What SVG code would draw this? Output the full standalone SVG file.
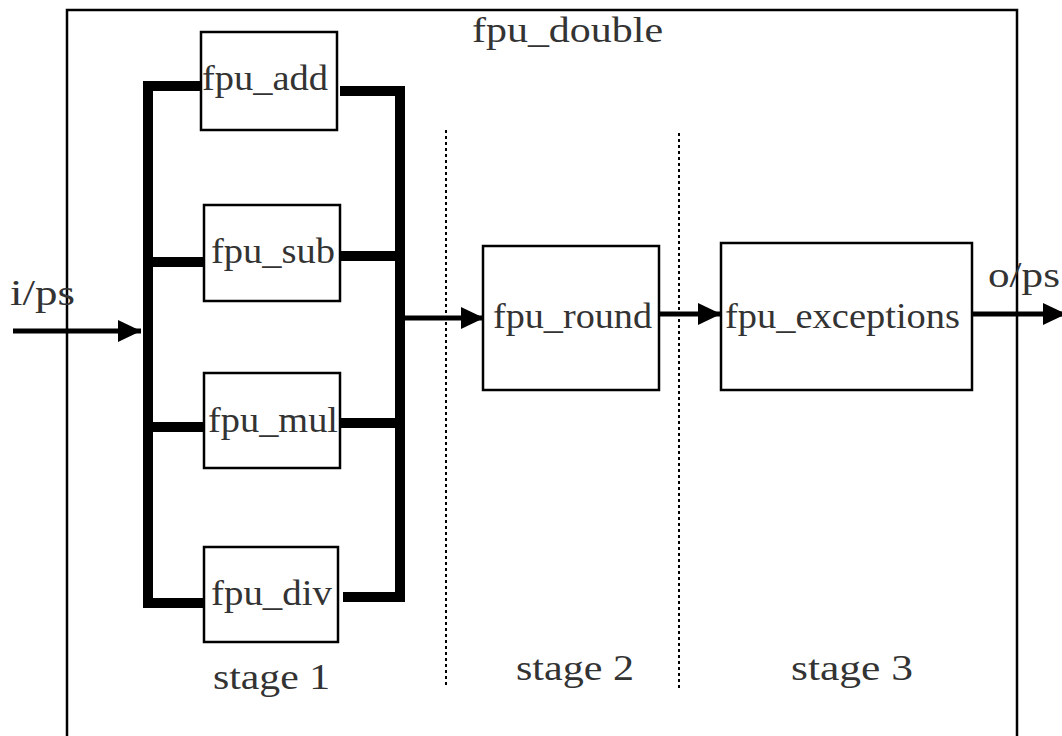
<svg xmlns="http://www.w3.org/2000/svg" width="1062" height="736" viewBox="0 0 1062 736">
  <style>
    .frame { fill: none; stroke: #000; stroke-width: 2.5; }
    .box { fill: #fff; stroke: #000; stroke-width: 2.5; }
    .lbl { font-family: "Liberation Serif", "DejaVu Serif", serif; font-size: 36px; fill: #333; }
    .bus { fill: none; stroke: #000; stroke-width: 10; stroke-linejoin: miter; stroke-linecap: butt; }
    .wire { fill: none; stroke: #000; stroke-width: 5; }
    .stage { fill: none; stroke: #000; stroke-width: 2; stroke-dasharray: 3 3; }
  </style>
  <defs>
    <marker id="head" viewBox="0 0 23 22" refX="23" refY="11" markerWidth="23" markerHeight="22" markerUnits="userSpaceOnUse" orient="auto">
      <path d="M0,0 L23,11 L0,22 Z" fill="#000"/>
    </marker>
  </defs>

  <rect width="1062" height="736" fill="#fff"/>

  <!-- top-level module -->
  <g id="fpu_double">
    <rect class="frame" x="67" y="10" width="950" height="740"/>
    <text class="lbl" x="472" y="42" textLength="191" lengthAdjust="spacingAndGlyphs">fpu_double</text>
  </g>

  <!-- pipeline stage separators -->
  <g id="stages">
    <line class="stage" x1="446" y1="130" x2="446" y2="688"/>
    <line class="stage" x1="679" y1="133" x2="679" y2="690"/>
    <text class="lbl" x="213" y="689" font-size="32" textLength="117" lengthAdjust="spacingAndGlyphs">stage 1</text>
    <text class="lbl" x="516" y="680" font-size="32" textLength="118" lengthAdjust="spacingAndGlyphs">stage 2</text>
    <text class="lbl" x="791" y="680" font-size="32" textLength="122" lengthAdjust="spacingAndGlyphs">stage 3</text>
  </g>

  <!-- connectors -->
  <g id="connectors">
    <!-- input fan-out bus -->
    <polyline class="bus" points="204,86 148,86 148,603 210,603"/>
    <line class="bus" x1="148" y1="262" x2="205" y2="262"/>
    <line class="bus" x1="148" y1="427" x2="210" y2="427"/>
    <!-- result merge bus -->
    <polyline class="bus" points="340,91 400,91 400,597 343,597"/>
    <line class="bus" x1="341" y1="256" x2="400" y2="256"/>
    <line class="bus" x1="341" y1="423" x2="400" y2="423"/>
    <!-- data path arrows -->
    <line class="wire" x1="13" y1="331" x2="141" y2="331" marker-end="url(#head)"/>
    <line class="wire" x1="405" y1="318" x2="484" y2="318" marker-end="url(#head)"/>
    <line class="wire" x1="659" y1="314" x2="721" y2="314" marker-end="url(#head)"/>
    <line class="wire" x1="972" y1="314" x2="1066" y2="314" marker-end="url(#head)"/>
  </g>

  <!-- port labels -->
  <g id="ports">
    <text class="lbl" x="10" y="305" textLength="65" lengthAdjust="spacingAndGlyphs">i/ps</text>
    <text class="lbl" x="988" y="287" textLength="72" lengthAdjust="spacingAndGlyphs">o/ps</text>
  </g>

  <!-- stage 1 units -->
  <g id="fpu_add">
    <rect class="box" x="201" y="32" width="136" height="98"/>
    <text class="lbl" x="202" y="90" textLength="126" lengthAdjust="spacingAndGlyphs">fpu_add</text>
  </g>
  <g id="fpu_sub">
    <rect class="box" x="204" y="205" width="136" height="96"/>
    <text class="lbl" x="211" y="263" textLength="124" lengthAdjust="spacingAndGlyphs">fpu_sub</text>
  </g>
  <g id="fpu_mul">
    <rect class="box" x="204" y="373" width="136" height="95"/>
    <text class="lbl" x="208" y="432" textLength="130" lengthAdjust="spacingAndGlyphs">fpu_mul</text>
  </g>
  <g id="fpu_div">
    <rect class="box" x="204" y="547" width="134" height="95"/>
    <text class="lbl" x="211" y="605" textLength="121" lengthAdjust="spacingAndGlyphs">fpu_div</text>
  </g>

  <!-- stage 2 -->
  <g id="fpu_round">
    <rect class="box" x="483" y="246" width="176" height="144"/>
    <text class="lbl" x="493" y="328" textLength="159" lengthAdjust="spacingAndGlyphs">fpu_round</text>
  </g>

  <!-- stage 3 -->
  <g id="fpu_exceptions">
    <rect class="box" x="721" y="243" width="251" height="147"/>
    <text class="lbl" x="725" y="328" textLength="235" lengthAdjust="spacingAndGlyphs">fpu_exceptions</text>
  </g>
</svg>
